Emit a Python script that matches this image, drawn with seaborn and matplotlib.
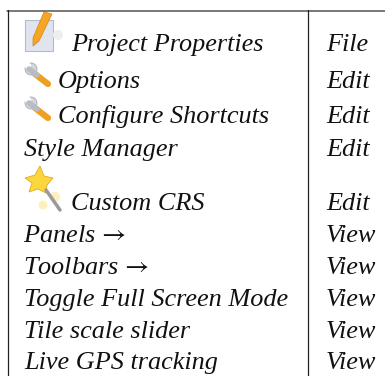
import matplotlib
matplotlib.use('Agg')
import matplotlib.pyplot as plt
import seaborn as sns
from matplotlib.patches import Polygon, Rectangle, Circle

sns.set_style('white')
plt.rcParams['font.family'] = ['Liberation Serif', 'DejaVu Serif']
plt.rcParams['mathtext.fontset'] = 'stix'

# table content
actions = ['Project Properties', 'Options', 'Configure Shortcuts', 'Style Manager', 'Custom CRS',
           'Panels$\\,\\rightarrow$', 'Toolbars$\\,\\rightarrow$', 'Toggle Full Screen Mode',
           'Tile scale slider', 'Live GPS tracking']
menus = ['File', 'Edit', 'Edit', 'Edit', 'Edit', 'View', 'View', 'View', 'View', 'View']
baselines = [51, 88, 123, 156, 210, 242, 274, 306, 338, 369]
text_x = [71, 58, 58, 24, 71, 23, 23, 24, 24, 24]

fig = plt.figure(figsize=(3.85, 3.76), dpi=100)
ax = fig.add_axes([0, 0, 1, 1])
ax.set_xlim(0, 385)
ax.set_ylim(376, 0)
ax.axis('off')

# table rules
ax.plot([7, 385], [10.8, 10.8], color='#555555', lw=1.1)
ax.plot([7.5, 7.5], [10, 376], color='#222222', lw=0.9)
ax.plot([308, 308], [10, 376], color='#222222', lw=0.9)

for name, menu, y, x in zip(actions, menus, baselines, text_x):
    ax.text(x, y, name, style='italic', fontsize=18.9, va='baseline', color='#111111')
    ax.text(326, y, menu, style='italic', fontsize=18.9, va='baseline', color='#111111')

# page + pencil icon
ax.add_patch(Rectangle((25, 20), 28, 31, fc='#dfe4ee', ec='#b4bccc', lw=0.8))
ax.add_patch(Circle((58, 35), 5, fc='#eeeeee', ec='none'))
ax.add_patch(Polygon([[44, 12], [52, 14], [39, 41], [33, 46], [33, 38]], fc='#f5a623', ec='#d9801a', lw=0.5))


# wrench icons
def wrench(y0):
    ax.plot([35, 48], [y0 + 10, y0 + 20], color='#f0a020', lw=4.5, solid_capstyle='round')
    ax.plot([29, 37], [y0 + 5, y0 + 11], color='#b8bcc4', lw=4, solid_capstyle='round')
    ax.add_patch(Circle((31, y0 + 5), 6, fc='#d4d6da', ec='#9a9ea6', lw=0.5))
    ax.add_patch(Circle((28, y0 + 2), 3.2, fc='white', ec='none'))


wrench(64)
wrench(98)

# star wand icon
ax.plot([46, 60], [190, 210], color='#9a9a9a', lw=2.5)
ax.add_patch(Polygon([[40, 166], [44, 176], [53, 178], [47, 185], [46, 193], [38, 189], [29, 192],
                      [32, 183], [25, 178], [35, 175]], fc='#fbd63c', ec='#e8a818', lw=0.6))
ax.add_patch(Circle((55, 197), 5, fc='#fdf0bc', ec='none', zorder=0))
ax.add_patch(Circle((43, 205), 4.5, fc='#fdf0bc', ec='none', zorder=0))

fig.savefig('out.png', dpi=100)
